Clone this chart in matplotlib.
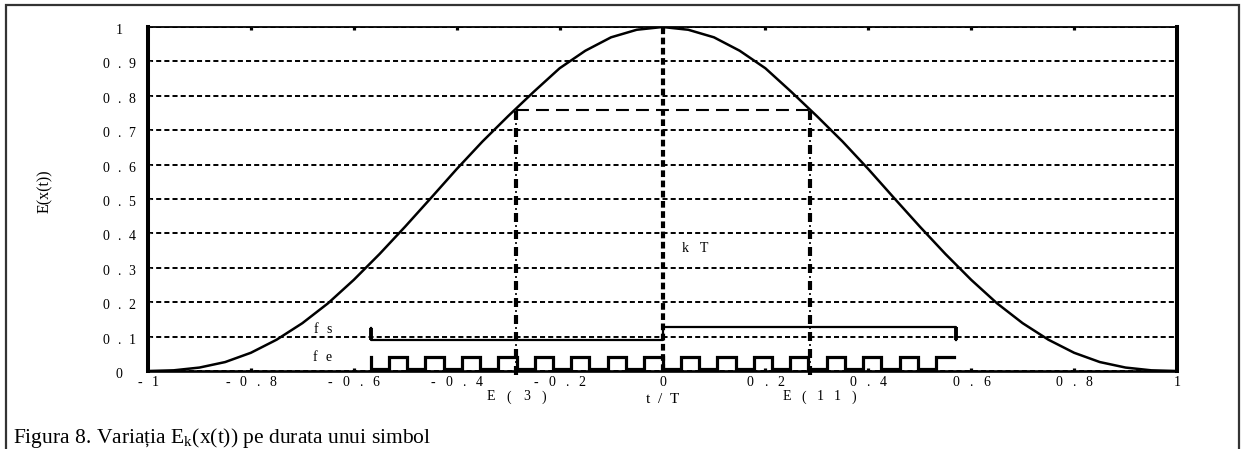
import matplotlib
matplotlib.use("Agg")
import matplotlib.pyplot as plt
import matplotlib.transforms as mtransforms
import matplotlib.patches as mpatches

plt.rcParams['font.family'] = ['Liberation Serif', 'DejaVu Serif']
plt.rcParams['mathtext.fontset'] = 'custom'
plt.rcParams['mathtext.rm'] = 'Liberation Serif'
plt.rcParams['mathtext.it'] = 'Liberation Serif:italic'

# ---------------- data ----------------
t_curve = [-1.00, -0.95, -0.90, -0.85, -0.80, -0.75, -0.70, -0.65, -0.60, -0.55,
           -0.50, -0.45, -0.40, -0.35, -0.30, -0.25, -0.20, -0.15, -0.10, -0.05,
           0.00, 0.05, 0.10, 0.15, 0.20, 0.25, 0.30, 0.35, 0.40, 0.45,
           0.50, 0.55, 0.60, 0.65, 0.70, 0.75, 0.80, 0.85, 0.90, 0.95, 1.00]
E_curve = [0.000, 0.002, 0.010, 0.026, 0.053, 0.091, 0.139, 0.197, 0.265, 0.340,
           0.420, 0.503, 0.587, 0.667, 0.741, 0.812, 0.880, 0.931, 0.970, 0.992,
           1.000, 0.992, 0.970, 0.931, 0.880, 0.812, 0.741, 0.667, 0.587, 0.503,
           0.420, 0.340, 0.265, 0.197, 0.139, 0.091, 0.053, 0.026, 0.010, 0.002, 0.000]

E3_t = -0.284          # E(3) marker
E11_t = 0.286          # E(11) marker
centre_t = 0.0         # kT
E_level = 0.759        # E value at the markers

fs_t = [-0.567, -0.567, 0.000, 0.000, 0.570, 0.570]
fs_y = [0.125, 0.090, 0.090, 0.127, 0.127, 0.090]

fe_edges = [-0.567, -0.532, -0.496, -0.461, -0.425, -0.390, -0.354, -0.319, -0.283,
            -0.248, -0.213, -0.177, -0.142, -0.106, -0.071, -0.035, 0.000,
            0.035, 0.071, 0.106, 0.142, 0.177, 0.213, 0.248, 0.283,
            0.319, 0.354, 0.390, 0.425, 0.461, 0.496, 0.532, 0.567]
fe_state = [0, 1, 0, 1, 0, 1, 0, 1, 0, 1, 0, 1, 0, 1, 0, 1,
            0, 1, 0, 1, 0, 1, 0, 1, 0, 1, 0, 1, 0, 1, 0, 1, 1]
fe_low, fe_high = 0.006, 0.042

x_ticks = [-1.0, -0.8, -0.6, -0.4, -0.2, 0.0, 0.2, 0.4, 0.6, 0.8, 1.0]
x_labels = ["- 1", "- 0 . 8", "- 0 . 6", "- 0 . 4", "- 0 . 2", "0",
            "0 . 2", "0 . 4", "0 . 6", "0 . 8", "1"]
y_ticks = [0.0, 0.1, 0.2, 0.3, 0.4, 0.5, 0.6, 0.7, 0.8, 0.9, 1.0]
y_labels = ["0", "0 . 1", "0 . 2", "0 . 3", "0 . 4", "0 . 5", "0 . 6",
            "0 . 7", "0 . 8", "0 . 9", "1"]

caption = "Figura 8. Variația E$_{\\mathrm{k}}$(x(t)) pe durata unui simbol"

# ---------------- figure ----------------
W, H, DPI = 1241, 449, 100
fig = plt.figure(figsize=(W / DPI, H / DPI), dpi=DPI)
ax = fig.add_axes([148 / W, 78 / H, (1177 - 148) / W, (371 - 27) / H])
ax.set_xlim(-1, 1)
ax.set_ylim(0, 1)

# grid (short dashes)
ax.set_yticks(y_ticks)
ax.set_xticks(x_ticks[1:-1])
ax.yaxis.grid(True, linestyle=(0, (2.6, 1.6)), linewidth=1.4, color='black')
ax.set_axisbelow(True)
ax.tick_params(axis='x', which='both', direction='in', length=2.3, width=2.3,
               top=True, bottom=True, labelbottom=False, color='black')
ax.tick_params(axis='y', which='both', direction='in', length=2.5, width=0.8,
               left=True, right=False, labelleft=False, color='#555555')

for side, lw in (('left', 2.9), ('right', 2.9), ('top', 1.3), ('bottom', 1.9)):
    ax.spines[side].set_linewidth(lw)
    ax.spines[side].set_color('black')
    ax.spines[side].set_zorder(6)

# main curve
ax.plot(t_curve, E_curve, color='black', lw=1.8, zorder=4, solid_joinstyle='round')

# centre thick dashed line
ax.plot([centre_t, centre_t], [0, 1], color='black', lw=3.0,
        linestyle=(0, (1.6, 0.85)), zorder=5, dash_capstyle='butt')

# dash-dot markers E(3) and E(11)
for tt in (E3_t, E11_t):
    ax.plot([tt, tt], [-0.012, E_level], color='black', lw=3.0,
            linestyle=(0, (2.16, 1.92)), zorder=5, clip_on=False)
    ax.plot([tt, tt], [-0.012, E_level], color='black', lw=1.2,
            linestyle=(3.0, (1.2, 9.0)), zorder=5, clip_on=False)

# long dashed horizontal
ax.plot([E3_t, E11_t], [E_level, E_level], color='black', lw=1.5,
        linestyle=(0, (6.2, 3.4)), zorder=4)

# fs
ax.plot(fs_t, fs_y, color='black', lw=1.6, zorder=4)
ax.plot(fs_t[:2], fs_y[:2], color='black', lw=2.8, zorder=4, solid_capstyle='butt')
ax.plot(fs_t[-2:], fs_y[-2:], color='black', lw=2.8, zorder=4, solid_capstyle='butt')

# fe square wave
fe_x = [fe_edges[0]]
fe_y = [fe_high]
for k in range(len(fe_edges)):
    lvl = fe_high if fe_state[k] else fe_low
    fe_x += [fe_edges[k]]
    fe_y += [lvl]
    if k + 1 < len(fe_edges):
        fe_x += [fe_edges[k + 1]]
        fe_y += [lvl]
ax.plot(fe_x, fe_y, color='black', lw=2.3, zorder=4, solid_joinstyle='miter')

# ---------------- spaced text helper ----------------
renderer = fig.canvas.get_renderer()


def spaced(x, y, s, gap_px, transform, fontsize, dx_px=0.0, dy_px=0.0,
           ha='center', va='center', target=ax):
    tokens = s.split(' ')
    texts = [target.text(x, y, tok, fontsize=fontsize, ha='left', va=va,
                         transform=transform, zorder=7) for tok in tokens]
    widths = [t.get_window_extent(renderer).width for t in texts]
    total = sum(widths) + gap_px * (len(tokens) - 1)
    cur = -total / 2 if ha == 'center' else 0.0
    for t, w in zip(texts, widths):
        off = mtransforms.ScaledTranslation((cur + dx_px) / DPI, dy_px / DPI,
                                            fig.dpi_scale_trans)
        t.set_transform(transform + off)
        cur += w + gap_px
    return texts


# y tick labels (centred ~29 px left of the axis)
ytrans = ax.get_yaxis_transform()
for v, lab in zip(y_ticks, y_labels):
    spaced(0, v, lab, 7.8, ytrans, 10, dx_px=-29, dy_px=-3.5)

# x tick labels
xtrans = ax.get_xaxis_transform()
for v, lab in zip(x_ticks, x_labels):
    spaced(v, 0, lab, 10, xtrans, 10, dy_px=-12)

# axis title and marker labels
spaced(0.0, 0, "t / T", 8, xtrans, 11, dy_px=-28.5)
spaced(E3_t, 0, "E ( 3 )", 11.4, xtrans, 10, dy_px=-26)
spaced(0.305, 0, "E ( 1 1 )", 10.3, xtrans, 10, dy_px=-26)

dtrans = ax.transData
spaced(0.063, 0.355, "k T", 10.6, dtrans, 10)
spaced(-0.661, 0.121, "f s", 8, dtrans, 10)
spaced(-0.661, 0.039, "f e", 8, dtrans, 10)

# y label
fig.text(45 / W, 1 - 191.5 / H, "E(x(t))", rotation=90, ha='center', va='center',
         fontsize=11.5)

# caption
fig.text(13 / W, 6 / H, caption, ha='left', va='baseline', fontsize=15.5)

# outer frame
frame = mpatches.Rectangle((5.5 / W, -0.05), 1233.5 / W, 443.5 / H + 0.05,
                           transform=fig.transFigure, fill=False, lw=1.6,
                           ec='#333333', clip_on=False)
fig.patches.append(frame)

fig.savefig("out.png", dpi=DPI)
